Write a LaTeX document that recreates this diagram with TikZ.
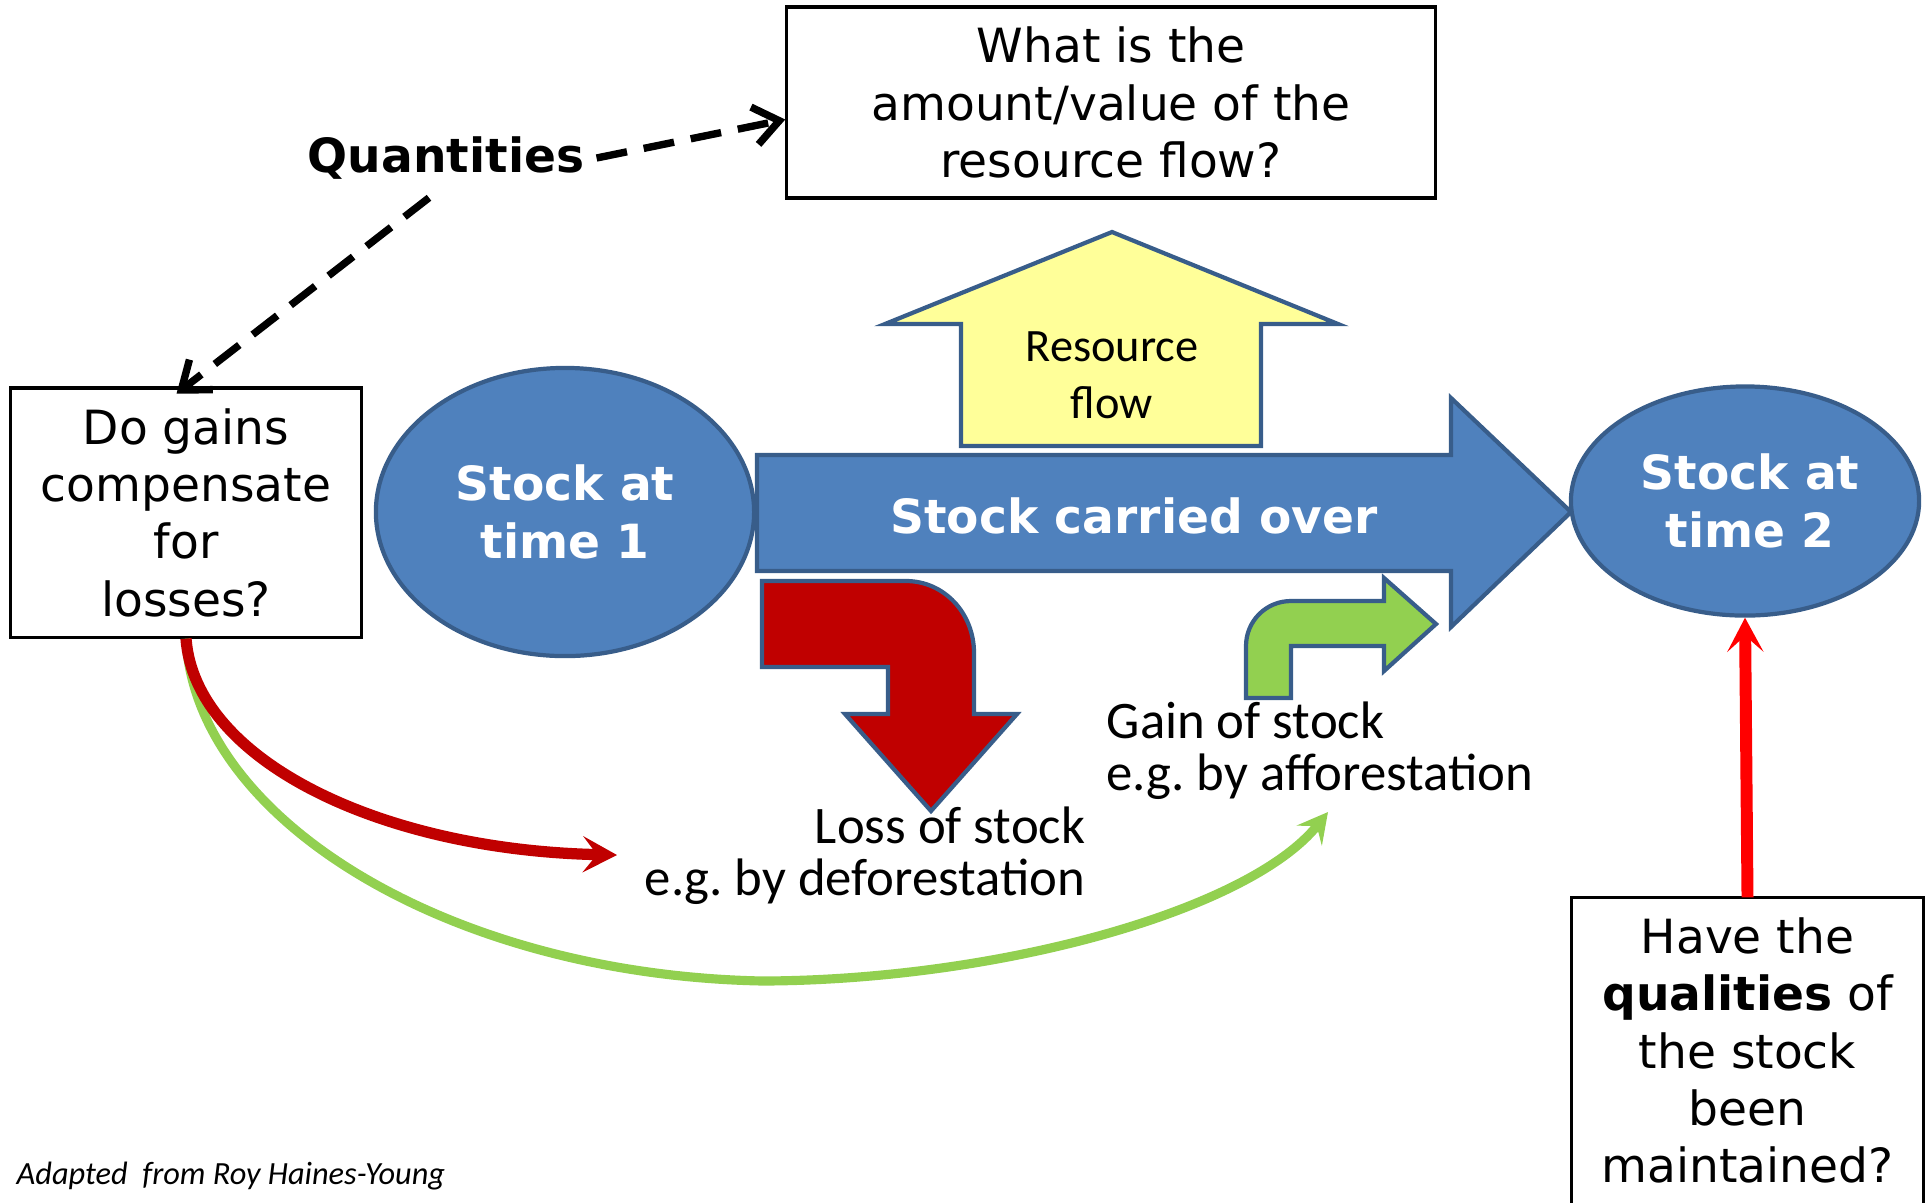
\documentclass[tikz,border=0pt]{standalone}
\usepackage{fontspec}
\setmainfont{DejaVu Sans}
\newfontfamily\calfont{Carlito}
\frenchspacing
\usetikzlibrary{shapes.geometric, arrows.meta, positioning, calc}
\definecolor{stockblue}{RGB}{79,129,189}
\definecolor{edgeblue}{RGB}{56,93,138}
\definecolor{flowyellow}{RGB}{255,255,153}
\definecolor{lossred}{RGB}{192,0,0}
\definecolor{gaingreen}{RGB}{146,208,80}
\tikzstyle{question} = [rectangle, draw=black, line width=0.9pt, align=center, inner sep=0pt, font=\fontsize{13.4}{16.3}\selectfont]
\tikzstyle{stock} = [ellipse, draw=edgeblue, line width=1.2pt, fill=stockblue, text=white, align=center, inner sep=0pt, font=\fontsize{13.4}{16.3}\selectfont\bfseries]
\tikzstyle{block} = [draw=edgeblue, line width=1.2pt]
\tikzstyle{lbl} = [inner sep=0pt, font=\calfont\fontsize{15}{14.8}\selectfont]
\tikzstyle{dasharrow} = [line width=2.1pt, dash pattern=on 0.31cm off 0.17cm, -{Straight Barb[length=0.25cm, width=0.38cm]}]
\tikzstyle{losscurve} = [line width=3.2pt, lossred, -{Stealth[length=0.34cm, width=0.36cm, inset=0.14cm]}]
\tikzstyle{gaincurve} = [line width=2.6pt, gaingreen, -{Stealth[length=0.3cm, width=0.32cm, inset=0.12cm]}]
\tikzstyle{keptarrow} = [line width=3.4pt, red, -{Stealth[length=0.34cm, width=0.36cm, inset=0.16cm]}]

\begin{document}
\begin{tikzpicture}[x=0.01cm, y=-0.01cm]
\useasboundingbox (0,0) rectangle (1931,1202);

% Flow arrows
\draw [block, fill=stockblue] (757,455) -- (1451,455) -- (1451,398) -- (1571,512) -- (1451,627) -- (1451,571) -- (757,571) -- cycle;
\draw [block, fill=flowyellow] (961,446) -- (961,324) -- (885,324) -- (1112,232) -- (1338,324) -- (1261,324) -- (1261,446) -- cycle;
\draw [block, fill=lossred] (888,667) -- (762,667) -- (762,581) -- (906,581) .. controls (944,581) and (974,613) .. (974,653) -- (974,714) -- (1017,714) -- (931,811) -- (845,714) -- (888,714) -- cycle;
\draw [block, fill=gaingreen] (1291,698) -- (1246,698) -- (1246,646) .. controls (1246,621) and (1266,601) .. (1291,601) -- (1384,601) -- (1384,578) -- (1436,624) -- (1384,671) -- (1384,646) -- (1291,646) -- cycle;

\node (carried) [text=white, font=\fontsize{13.4}{16.3}\selectfont\bfseries] at (1134,516) {Stock carried over};
\node (flow) [align=center, font=\calfont\fontsize{13.2}{16.2}\selectfont] at (1112,375) {Resource\\flow};

% Stocks
\node (st1) [stock, minimum width=3.78cm, minimum height=2.88cm] at (565,512) {Stock at\\time 1};
\node (st2) [stock, minimum width=3.48cm, minimum height=2.29cm] at (1745,501) {\hspace*{0.1cm}Stock at\\\hspace*{0.1cm}time 2};

% Questions
\node (quant) [font=\fontsize{13.4}{16.3}\selectfont\bfseries] at (446,158) {Quantities};
\node (topq) [question, minimum width=6.48cm, minimum height=1.91cm] at (1111,102.5) {What is the\\amount/value of the\\resource flow?};
\node (lbox) [question, minimum width=3.5cm, minimum height=2.49cm] at (186,512.5) {Do gains\\compensate\\for\\losses?};
\node (qbox) [question, draw=none, minimum width=3.49cm, minimum height=3.03cm] at (1747.5,1050.5) {Have the\\\textbf{qualities} of\\the stock\\been\\maintained?};
\draw [line width=0.9pt] (qbox.south west) -- (qbox.north west) -- (qbox.north east) -- (qbox.south east);

% Labels
\node (losslbl) [lbl, align=right, anchor=east] at (1086,856) {Loss of stock\\e.g. by deforestation};
\node (gainlbl) [lbl, align=left, anchor=west] at (1106,751) {Gain of stock\\e.g. by afforestation};
\node (credit) [anchor=west, inner sep=0pt, font=\calfont\itshape\fontsize{9.2}{11}\selectfont] at (16,1176) {Adapted\ \ from Roy Haines-Young};

% Arrows
\coordinate (losstip) at (617,855);
\coordinate (gaintip) at (1328,812);
\coordinate (dip) at (763,981);
\draw [dasharrow] (quant.east) -- ($(topq.west)+(0,17)$);
\draw [dasharrow, shorten >=-0.12cm] ($(quant.south)+(-17,6)$) -- (lbox.north);
\draw [gaincurve] (lbox.south) .. controls (195,820) and (450,975) .. (dip) .. controls (1000,980) and (1250,910) .. (gaintip);
\draw [losscurve] (lbox.south) .. controls (195,760) and (380,850) .. (losstip);
\draw [keptarrow] (qbox.north) -- (st2.south);

\end{tikzpicture}
\end{document}
